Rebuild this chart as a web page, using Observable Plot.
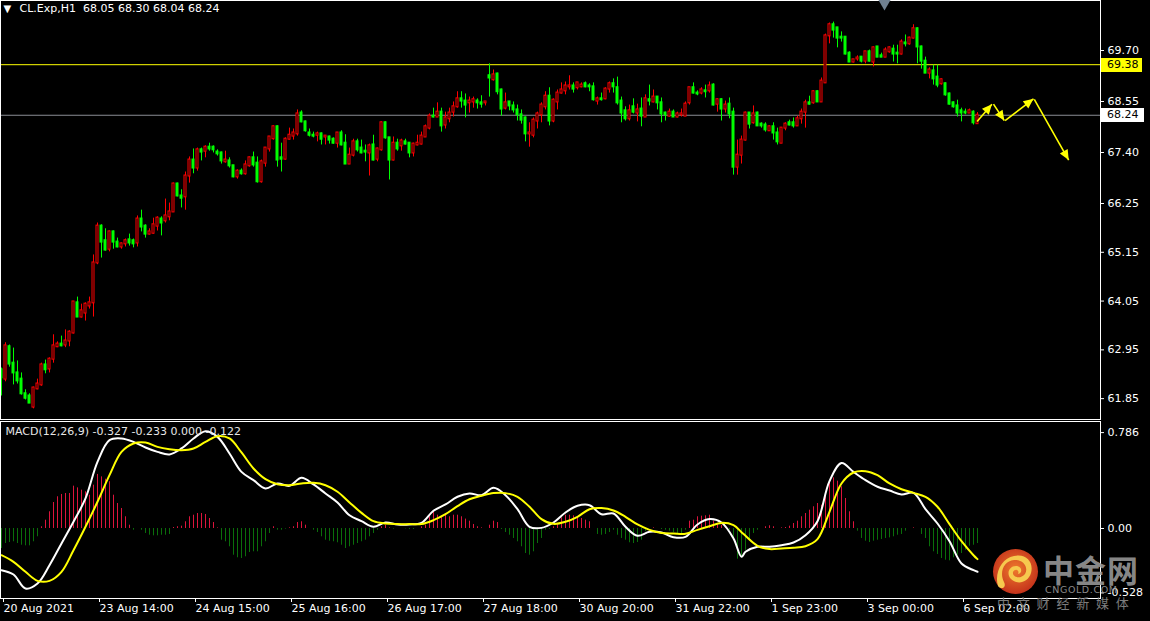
<!DOCTYPE html>
<html><head><meta charset="utf-8">
<script src="https://cdn.jsdelivr.net/npm/d3@7"></script>
<script src="https://cdn.jsdelivr.net/npm/@observablehq/plot@0.6"></script>
<style>
html,body{margin:0;padding:0;background:#000;}
#wrap{position:relative;width:1150px;height:621px;background:#000;overflow:hidden;font-family:"DejaVu Sans",sans-serif;}
#main{position:absolute;left:0;top:0;}
#macd{position:absolute;left:0;top:421px;}
.pbox{position:absolute;left:1101px;height:14px;line-height:14px;font-size:11px;color:#000;padding-left:6px;box-sizing:border-box;}
#wm{position:absolute;left:0;top:0;width:1150px;height:621px;pointer-events:none;}
</style></head>
<body><div id="wrap"><div id="main"></div><div id="macd"></div><div id="wm"></div></div>
<script>
// ---------- DATA ----------
const symbolTitle = "CL.Exp,H1";
const lastOHLC = [68.05, 68.30, 68.04, 68.24];
const macdTitle = "MACD(12,26,9) -0.327 -0.233 0.000 -0.122";
const resistance = 69.38;
const bid = 68.24;
const shiftMarkerBar = 220.75;

const opens = [62.50,62.29,63.02,62.65,62.43,62.29,61.96,61.91,61.66,62.07,
62.16,62.61,62.52,62.74,63.02,63.08,63.06,63.15,63.33,64.01,
63.69,63.78,63.94,64.01,64.91,65.74,65.41,65.22,65.61,65.38,
65.27,65.34,65.43,65.41,65.36,65.90,65.74,65.56,65.58,65.74,
65.90,65.86,65.95,66.06,66.69,66.42,66.40,66.87,67.23,67.05,
67.46,67.43,67.52,67.52,67.41,67.39,67.19,67.21,67.10,66.85,
66.98,66.92,67.10,67.28,67.16,66.74,67.16,67.48,67.71,67.98,
67.28,67.25,67.70,67.77,67.82,68.29,68.09,67.84,67.79,67.79,
67.82,67.75,67.75,67.70,67.61,67.84,67.61,67.14,67.34,67.64,
67.50,67.43,67.39,67.57,67.25,67.46,68.07,67.73,67.23,67.61,
67.55,67.64,67.61,67.39,67.57,67.59,67.75,67.95,68.22,68.20,
68.31,68.02,68.16,68.31,68.43,68.61,68.56,68.52,68.54,68.56,
68.52,68.52,69.13,69.04,69.17,68.81,68.40,68.54,68.45,68.36,
68.25,68.18,67.82,67.79,68.11,68.25,68.43,68.67,68.11,68.54,
68.74,68.79,68.88,68.90,68.86,68.88,68.95,68.90,68.88,68.56,
68.61,68.61,68.83,68.95,68.86,68.56,68.34,68.16,68.43,68.29,
68.38,68.20,68.59,68.54,68.65,68.52,68.29,68.22,68.31,68.20,
68.25,68.22,68.52,68.86,68.74,68.74,68.79,68.79,68.92,68.49,
68.59,68.38,68.49,68.31,67.07,67.34,67.68,68.29,68.07,68.29,
68.04,68.02,67.89,67.98,67.84,67.61,67.95,68.07,68.07,68.00,
68.16,68.31,68.52,68.52,68.77,68.54,68.97,70.03,70.28,70.21,
70.00,70.00,69.64,69.44,69.51,69.55,69.46,69.67,69.44,69.78,
69.58,69.55,69.67,69.73,69.64,69.62,69.87,69.85,69.98,70.19,
69.78,69.46,69.19,69.24,69.10,68.95,68.95,68.72,68.52,68.45,
68.34,68.31,68.29,68.31,68.05];
const highs = [62.54,63.11,63.06,62.99,62.70,62.43,62.05,61.96,62.11,62.29,
62.65,62.72,62.77,63.29,63.13,63.26,63.40,63.38,64.03,64.14,
63.98,64.01,64.14,65.09,65.81,65.77,65.68,65.63,65.63,65.47,
65.36,65.45,65.56,65.45,65.97,66.10,65.77,65.68,65.92,65.95,
65.95,66.35,66.26,66.71,66.71,66.56,66.96,67.30,67.48,67.50,
67.50,67.55,67.61,67.55,67.46,67.41,67.43,67.28,67.10,67.01,
67.03,67.21,67.30,67.41,67.30,67.23,67.50,67.75,68.00,68.00,
67.61,67.73,67.95,67.93,68.36,68.34,68.11,67.93,67.86,67.86,
67.84,67.77,67.77,67.73,67.84,67.89,67.80,67.50,67.70,67.70,
67.68,67.57,67.59,67.79,67.50,68.09,68.09,67.73,67.75,67.70,
67.70,67.70,67.61,67.61,67.79,67.86,68.02,68.27,68.40,68.52,
68.40,68.31,68.40,68.54,68.77,68.77,68.72,68.65,68.65,68.61,
68.68,68.54,69.40,69.26,69.19,68.83,68.74,68.54,68.54,68.47,
68.36,68.20,68.07,68.18,68.31,68.52,68.77,68.86,68.61,68.81,
68.97,68.99,69.13,68.97,68.97,68.97,68.99,68.95,68.97,68.65,
68.74,68.86,68.99,69.06,69.10,68.65,68.43,68.47,68.61,68.49,
68.63,68.70,68.92,68.81,68.65,68.63,68.31,68.38,68.36,68.31,
68.38,68.54,68.86,68.97,68.79,68.86,68.92,68.99,68.95,68.61,
68.61,68.56,68.63,68.40,67.68,67.77,68.31,68.29,68.45,68.31,
68.07,68.07,68.00,68.07,67.95,67.95,68.07,68.13,68.18,68.22,
68.38,68.58,68.67,68.79,68.79,69.08,70.07,70.32,70.34,70.21,
70.12,70.00,69.67,69.49,69.58,69.55,69.67,69.71,69.78,69.78,
69.64,69.76,69.78,69.82,69.82,69.94,70.05,70.00,70.28,70.21,
69.80,69.55,69.31,69.37,69.37,69.06,68.97,68.74,68.54,68.58,
68.40,68.38,68.38,68.34,68.30];
const lows = [61.91,62.23,62.56,62.16,62.18,61.93,61.82,61.75,61.62,62.05,
62.13,62.41,62.43,62.65,63.00,63.02,63.00,63.02,63.31,63.69,
63.67,63.60,63.87,63.69,64.87,65.02,65.18,65.16,65.22,65.25,
65.22,65.27,65.29,65.25,65.27,65.61,65.47,65.54,65.56,65.63,
65.52,65.81,65.86,66.06,66.40,66.15,66.10,66.71,66.92,66.98,
67.21,67.28,67.43,67.39,67.32,67.14,67.16,67.05,66.83,66.80,
66.89,66.89,67.07,67.07,66.71,66.71,67.07,67.41,67.68,67.07,
66.96,67.23,67.68,67.68,67.77,68.07,67.86,67.75,67.73,67.64,
67.57,67.57,67.59,67.59,67.50,67.55,67.14,67.14,67.30,67.41,
67.37,67.19,66.87,67.21,67.19,67.43,67.70,66.78,67.21,67.43,
67.43,67.57,67.28,67.30,67.55,67.57,67.75,67.91,68.18,68.20,
67.86,67.93,68.07,68.20,68.40,68.40,68.18,68.29,68.40,68.38,
68.40,68.45,68.65,69.01,68.70,68.22,68.36,68.34,68.29,68.11,
68.04,67.64,67.52,67.73,67.93,68.07,68.36,68.00,68.07,68.36,
68.72,68.70,68.81,68.74,68.81,68.86,68.86,68.77,68.56,68.47,
68.56,68.59,68.74,68.74,68.47,68.07,68.11,68.11,68.27,68.09,
67.98,68.20,68.45,68.52,68.36,68.07,68.11,68.20,68.20,68.18,
68.20,68.22,68.47,68.72,68.68,68.70,68.63,68.74,68.45,68.31,
68.11,68.29,68.16,66.89,66.89,67.14,67.66,67.93,68.04,68.00,
67.95,67.86,67.89,67.68,67.57,67.61,67.89,68.00,67.95,68.00,
68.04,67.95,68.47,68.49,68.54,68.54,68.97,69.85,69.98,69.76,
69.89,69.60,69.44,69.42,69.46,69.42,69.40,69.44,69.33,69.55,
69.55,69.55,69.64,69.44,69.40,69.60,69.78,69.82,69.96,69.40,
69.28,69.19,69.06,68.92,68.86,68.92,68.67,68.47,68.40,68.20,
68.09,68.25,68.29,68.02,68.04];
const closes = [62.32,63.04,62.63,62.43,62.25,61.96,61.86,61.75,62.09,62.18,
62.61,62.50,62.74,63.04,63.08,63.04,63.15,63.35,64.03,63.69,
63.83,63.98,64.01,64.91,65.74,65.38,65.20,65.61,65.38,65.27,
65.34,65.41,65.36,65.34,65.90,65.72,65.56,65.61,65.77,65.92,
65.81,65.97,66.06,66.69,66.42,66.37,66.87,67.23,67.05,67.46,
67.41,67.52,67.48,67.46,67.37,67.21,67.23,67.10,66.85,66.98,
66.92,67.12,67.28,67.12,66.74,67.19,67.50,67.75,67.98,67.23,
67.25,67.70,67.79,67.84,68.27,68.09,67.89,67.79,67.77,67.82,
67.70,67.77,67.68,67.61,67.84,67.57,67.14,67.34,67.64,67.46,
67.39,67.41,67.55,67.23,67.48,68.07,67.73,67.23,67.61,67.48,
67.66,67.59,67.39,67.59,67.61,67.77,67.98,68.22,68.20,68.31,
68.00,68.18,68.29,68.43,68.61,68.56,68.47,68.56,68.59,68.52,
68.49,68.54,69.08,69.15,68.77,68.38,68.52,68.45,68.36,68.25,
68.13,67.82,67.84,68.13,68.27,68.47,68.67,68.11,68.58,68.74,
68.81,68.90,68.90,68.83,68.97,68.92,68.88,68.88,68.59,68.61,
68.59,68.83,68.95,68.88,68.52,68.29,68.16,68.34,68.31,68.36,
68.22,68.61,68.56,68.65,68.52,68.27,68.25,68.31,68.20,68.27,
68.27,68.49,68.86,68.74,68.72,68.81,68.77,68.90,68.47,68.59,
68.38,68.47,68.27,67.07,67.34,67.68,68.29,68.04,68.27,68.00,
68.00,67.91,67.98,67.84,67.64,67.95,68.04,68.02,68.00,68.16,
68.31,68.52,68.49,68.77,68.54,69.01,70.03,70.28,70.16,69.98,
69.98,69.62,69.44,69.49,69.53,69.46,69.67,69.46,69.76,69.55,
69.55,69.71,69.76,69.62,69.62,69.89,69.85,69.98,70.19,69.78,
69.46,69.19,69.26,69.06,68.92,69.04,68.70,68.49,68.43,68.29,
68.29,68.29,68.34,68.07,68.24];

const histValues = [-0.164,-0.123,-0.115,-0.109,-0.123,-0.137,-0.142,-0.142,-0.109,-0.068,
0.014,0.068,0.137,0.213,0.260,0.279,0.287,0.287,0.347,0.333,
0.314,0.301,0.273,0.355,0.443,0.423,0.404,0.383,0.273,0.205,
0.164,0.096,0.027,-0.014,0,-0.014,-0.041,-0.055,-0.060,-0.060,
-0.055,-0.055,-0.049,0.008,0.014,0.019,0.055,0.096,0.109,0.123,
0.123,0.115,0.082,0.049,0.005,-0.096,-0.109,-0.150,-0.219,-0.240,
-0.246,-0.232,-0.197,-0.191,-0.191,-0.150,-0.109,-0.041,0.014,-0.014,
-0.014,-0.005,0.005,0.014,0.049,0.055,0.027,0,-0.014,-0.033,
-0.068,-0.096,-0.104,-0.109,-0.117,-0.137,-0.164,-0.150,-0.137,-0.123,
-0.109,-0.096,-0.068,-0.041,-0.014,0.014,0.027,0.005,-0.005,0,
0,-0.003,-0.008,-0.008,0,0.014,0.027,0.096,0.137,0.109,
0.096,0.109,0.096,0.109,0.109,0.096,0.077,0.060,0.033,0.014,
0.005,0,0.027,0.060,0.049,-0.008,-0.033,-0.055,-0.082,-0.109,
-0.150,-0.205,-0.219,-0.191,-0.123,-0.082,-0.014,-0.008,0.014,0.033,
0.087,0.109,0.109,0.104,0.096,0.082,0.068,0.055,0,-0.049,
-0.055,-0.049,-0.033,-0.014,-0.055,-0.082,-0.096,-0.117,-0.123,-0.115,
-0.096,-0.027,0,0.005,0,-0.008,-0.014,-0.022,-0.033,-0.041,
-0.041,-0.014,0.060,0.068,0.096,0.101,0.104,0.109,0.060,0.041,
0.027,0.014,-0.014,-0.096,-0.251,-0.240,-0.178,-0.087,-0.041,-0.014,
0,0.014,0.022,0.014,0,0.005,0.008,0.019,0.041,0.060,
0.096,0.123,0.150,0.178,0.205,0.191,0.279,0.369,0.415,0.388,
0.342,0.246,0.137,0.055,-0.022,-0.082,-0.104,-0.115,-0.104,-0.096,
-0.090,-0.082,-0.077,-0.068,-0.055,-0.049,-0.022,0,0.005,0,
-0.049,-0.082,-0.150,-0.191,-0.213,-0.246,-0.260,-0.265,-0.240,-0.219,
-0.205,-0.178,-0.145,-0.137,-0.123];

const macdBars = [0,3,6,9,12,15,18,21,24,27,30,33,36,39,42,45,48,51,54,57,
60,63,66,69,72,75,78,81,84,87,90,93,96,99,102,105,108,111,114,117,
120,123,126,129,132,135,138,141,144,147,150,153,156,159,162,165,168,171,174,177,
180,183,185,186,189,192,195,198,201,204,207,210,213,216,219,222,225,228,231,234,
237,240,243,244];
const macdMain = [-0.342,-0.377,-0.492,-0.451,-0.301,-0.123,0.055,0.246,0.546,0.724,
0.738,0.710,0.664,0.628,0.607,0.656,0.738,0.798,0.751,0.615,
0.464,0.396,0.328,0.369,0.350,0.415,0.361,0.287,0.213,0.109,
0.060,0.014,0.049,0.033,0.033,0.046,0.145,0.197,0.260,0.287,
0.273,0.333,0.273,0.158,0.014,0.005,0.049,0.131,0.186,0.191,
0.117,0.123,0.014,-0.060,-0.027,-0.033,-0.071,-0.068,0.033,0.077,
0.049,-0.082,-0.232,
-0.191,-0.150,-0.150,-0.137,-0.115,-0.055,0.060,0.388,0.536,0.464,
0.396,0.342,0.311,0.279,0.292,0.158,0.041,-0.104,-0.287,-0.342,
-0.355];
const macdSignal = [-0.219,-0.273,-0.355,-0.429,-0.429,-0.355,-0.178,0.014,0.219,0.437,
0.628,0.697,0.705,0.669,0.650,0.642,0.656,0.710,0.757,0.738,
0.623,0.492,0.404,0.363,0.355,0.369,0.374,0.355,0.301,0.213,
0.128,0.060,0.041,0.036,0.036,0.036,0.068,0.117,0.183,0.240,
0.268,0.290,0.290,0.260,0.178,0.077,0.038,0.055,0.096,0.158,
0.167,0.148,0.096,0.033,-0.011,-0.036,-0.041,-0.044,-0.011,0.019,
0.046,0.027,-0.030,
-0.060,-0.142,-0.169,-0.164,-0.158,-0.145,-0.087,0.137,0.369,0.459,
0.470,0.437,0.369,0.322,0.292,0.260,0.178,0.036,-0.104,-0.219,
-0.251];

const priceTicks = [69.70, 68.55, 67.40, 66.25, 65.15, 64.05, 62.95, 61.85];
const macdTicks = [0.786, 0, -0.528];
const macdTickLabels = ["0.786", "0.00", "-0.528"];
const timeTickBars = [0, 24, 48, 72, 96, 120, 144, 168, 192, 216, 240];
const timeTickLabels = ["20 Aug 2021", "23 Aug 14:00", "24 Aug 15:00", "25 Aug 16:00", "26 Aug 17:00",
  "27 Aug 18:00", "30 Aug 20:00", "31 Aug 22:00", "1 Sep 23:00", "3 Sep 00:00", "6 Sep 02:00"];

// forecast arrows (bar index, price)
const arrowX1 = [243.9, 248.0, 250.9, 258.2];
const arrowY1 = [68.10, 68.49, 68.12, 68.60];
const arrowX2 = [247.6, 250.7, 258.0, 266.8];
const arrowY2 = [68.49, 68.12, 68.61, 67.23];

// ---------- BUILD ----------
const UP = "#ff0000", DOWN = "#00ff00";
const bars = opens.map((o, i) => ({i, open: o, high: highs[i], low: lows[i], close: closes[i], up: closes[i] >= o}));
const hist = histValues.map((v, i) => ({i, v}));
const macdRows = macdBars.map((b, k) => ({i: b, main: macdMain[k], signal: macdSignal[k]}));
const arrows = arrowX1.map((x, k) => ({x1: x, y1: arrowY1[k], x2: arrowX2[k], y2: arrowY2[k]}));
const timeLabelMap = new Map(timeTickBars.map((b, k) => [b, timeTickLabels[k]]));
const macdLabelMap = new Map(macdTicks.map((t, k) => [t, macdTickLabels[k]]));

const xDomain = [-0.25, 274.75];
const baseStyle = {background: "#000", color: "#fff", fontFamily: "DejaVu Sans, sans-serif", fontSize: "11px", overflow: "visible"};

function filledHead(color, context) {
  const doc = (context && context.document) || document;
  const m = doc.createElementNS("http://www.w3.org/2000/svg", "marker");
  m.setAttribute("viewBox", "-11 -6 12 12");
  m.setAttribute("markerWidth", 12);
  m.setAttribute("markerHeight", 12);
  m.setAttribute("markerUnits", "userSpaceOnUse");
  m.setAttribute("orient", "auto");
  m.setAttribute("refX", 0);
  m.setAttribute("refY", 0);
  m.setAttribute("fill", color);
  m.setAttribute("stroke", "none");
  const p = doc.createElementNS("http://www.w3.org/2000/svg", "path");
  p.setAttribute("d", "M-10,-4.5L0,0L-10,4.5Z");
  m.appendChild(p);
  return m;
}
let arrowMark;
try {
  arrowMark = Plot.link(arrows, {x1: "x1", y1: "y1", x2: "x2", y2: "y2", stroke: "#ffff00", strokeWidth: 1.6, markerEnd: filledHead});
} catch (e) {
  arrowMark = Plot.arrow(arrows, {x1: "x1", y1: "y1", x2: "x2", y2: "y2", stroke: "#ffff00", strokeWidth: 2, headLength: 10});
}

const main = Plot.plot({
  width: 1150, height: 420,
  marginLeft: 0, marginRight: 50, marginTop: 0, marginBottom: 1,
  style: baseStyle,
  x: {domain: xDomain, axis: null},
  y: {domain: [61.3798, 70.8274], axis: null},
  marks: [
    Plot.ruleY([resistance], {stroke: "#ffff00", strokeWidth: 1}),
    Plot.ruleY([bid], {stroke: "#8a8d94", strokeWidth: 1}),
    Plot.ruleX(bars, {x: "i", y1: "low", y2: "high", stroke: d => d.up ? UP : DOWN, strokeWidth: 1}),
    Plot.rect(bars, {x1: d => d.i - 0.25, x2: d => d.i + 0.25, y1: "open", y2: "close",
      insetTop: -0.5, insetBottom: -0.5,
      fill: d => d.up ? "#000" : DOWN, stroke: d => d.up ? UP : DOWN, strokeWidth: 1}),
    arrowMark,
    Plot.frame({stroke: "#fff"}),
    Plot.dot([shiftMarkerBar], {x: d => d, frameAnchor: "top", symbol: "triangle", rotate: 180, r: 4.5, fill: "#708090", stroke: "none", dy: 3}),
    Plot.axisY(priceTicks, {anchor: "right", tickSize: 3, tickPadding: 4, tickFormat: d3.format(".2f"), label: null, fill: "#fff", stroke: "#fff"}),
    Plot.text(["\u25BC"], {frameAnchor: "top-left", dx: 3, dy: 4, textAnchor: "start", lineAnchor: "top", fill: "#fff", fontSize: 10}),
    Plot.text([symbolTitle + "  " + lastOHLC.map(d3.format(".2f")).join(" ")], {frameAnchor: "top-left", dx: 19, dy: 4, textAnchor: "start", lineAnchor: "top", fill: "#fff"})
  ]
});
document.getElementById("main").appendChild(main);

const macd = Plot.plot({
  width: 1150, height: 200,
  marginLeft: 0, marginRight: 50, marginTop: 0, marginBottom: 23,
  style: baseStyle,
  x: {domain: xDomain, axis: null},
  y: {domain: [-0.5738, 0.8770], axis: null},
  marks: [
    Plot.ruleX(hist.filter(d => d.v !== 0), {x: "i", y1: 0, y2: "v", stroke: d => d.v > 0 ? "#dc143c" : "#0a6e0a", strokeWidth: 1}),
    Plot.line(macdRows, {x: "i", y: "main", stroke: "#ffffff", strokeWidth: 2, curve: "catmull-rom"}),
    Plot.line(macdRows, {x: "i", y: "signal", stroke: "#ffff00", strokeWidth: 2, curve: "catmull-rom"}),
    Plot.frame({stroke: "#fff"}),
    Plot.axisY(macdTicks, {anchor: "right", tickSize: 3, tickPadding: 4, tickFormat: d => macdLabelMap.get(d), label: null, fill: "#fff", stroke: "#fff"}),
    Plot.axisX(timeTickBars, {anchor: "bottom", tickSize: 4, tickPadding: 2, tickFormat: d => timeLabelMap.get(d), textAnchor: "start", dx: 2, label: null, fill: "#fff", stroke: "#fff"}),
    Plot.text([macdTitle], {frameAnchor: "top-left", dx: 5, dy: 6, textAnchor: "start", lineAnchor: "top", fill: "#e6e6e6"})
  ]
});
document.getElementById("macd").appendChild(macd);

// price label boxes placed via the plot's own y scale
const ys = main.scale("y");
function priceBox(value, bg) {
  const d = document.createElement("div");
  d.className = "pbox";
  d.style.background = bg;
  d.style.width = bg === "#ffff00" ? "41px" : "43px";
  d.style.top = (ys.apply(value) + 0.5 - 7) + "px";
  d.textContent = d3.format(".2f")(value);
  document.getElementById("wrap").appendChild(d);
}
priceBox(resistance, "#ffff00");
priceBox(bid, "#ffffff");

// watermark
document.getElementById("wm").innerHTML = `
<svg width="1150" height="621" style="position:absolute;left:0;top:0">
  <defs><radialGradient id="lg" cx="50%" cy="45%" r="55%">
    <stop offset="0" stop-color="#ee7a2c"/><stop offset="1" stop-color="#c4321b"/></radialGradient></defs>
  <circle cx="1015.5" cy="571.5" r="22.5" fill="url(#lg)"/>
  <path d="M1014,556 C1026,553 1034,562 1031,573 C1028,583 1017,585 1011,579 C1006,574 1009,566 1016,566 C1022,566 1023,573 1018,574 C1020,570 1015,568 1013,572 C1012,577 1020,580 1025,574 C1029,567 1023,559 1014,560 C1004,561 999,572 1004,582 C1007,588 1001,590 998,586 C994,573 1002,558 1014,556 Z" fill="#f6c94e"/>
  <text x="1043" y="582" font-family="Noto Sans CJK SC" font-weight="700" font-size="31" fill="#9a9a9a" fill-opacity="0.9" letter-spacing="1">中金网</text>
  <text x="1045" y="593" font-family="DejaVu Sans" font-size="9.5" fill="#8a8a8a" letter-spacing="0.6">CNGOLD.COM</text>
  <text x="997" y="608" font-family="Noto Sans CJK SC" font-size="13" fill="#7c7c7c" letter-spacing="6.8">中文财经新媒体</text>
</svg>`;
</script>
</body></html>
